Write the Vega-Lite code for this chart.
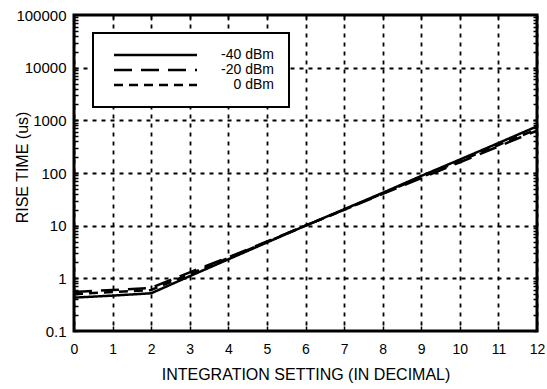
{
  "$schema": "https://vega.github.io/schema/vega-lite/v6.json",
  "width": 463,
  "height": 316,
  "autosize": {"type": "none"},
  "padding": {"left": 74, "top": 15, "right": 10, "bottom": 58},
  "background": "white",
  "config": {
    "view": {"stroke": "black", "strokeWidth": 3},
    "font": "Liberation Sans",
    "legend": {"strokeWidth": 2},
    "axis": {"domain": false, "labelFont": "Liberation Sans", "titleFont": "Liberation Sans", "labelColor": "black", "titleColor": "black", "titleFontWeight": "normal", "tickColor": "black", "gridColor": "black"}
  },
  "data": {
    "values": [
      {"x": 0, "y": 0.43, "series": "-40 dBm"},
      {"x": 1, "y": 0.47, "series": "-40 dBm"},
      {"x": 2, "y": 0.52, "series": "-40 dBm"},
      {"x": 3, "y": 1.1, "series": "-40 dBm"},
      {"x": 4, "y": 2.3, "series": "-40 dBm"},
      {"x": 5, "y": 4.8, "series": "-40 dBm"},
      {"x": 6, "y": 10, "series": "-40 dBm"},
      {"x": 7, "y": 20.5, "series": "-40 dBm"},
      {"x": 8, "y": 42, "series": "-40 dBm"},
      {"x": 9, "y": 88, "series": "-40 dBm"},
      {"x": 10, "y": 180, "series": "-40 dBm"},
      {"x": 11, "y": 370, "series": "-40 dBm"},
      {"x": 12, "y": 770, "series": "-40 dBm"},
      {"x": 0, "y": 0.55, "series": "-20 dBm"},
      {"x": 1, "y": 0.6, "series": "-20 dBm"},
      {"x": 2, "y": 0.66, "series": "-20 dBm"},
      {"x": 3, "y": 1.3, "series": "-20 dBm"},
      {"x": 4, "y": 2.5, "series": "-20 dBm"},
      {"x": 5, "y": 5.0, "series": "-20 dBm"},
      {"x": 6, "y": 10, "series": "-20 dBm"},
      {"x": 7, "y": 20, "series": "-20 dBm"},
      {"x": 8, "y": 40, "series": "-20 dBm"},
      {"x": 9, "y": 80, "series": "-20 dBm"},
      {"x": 10, "y": 160, "series": "-20 dBm"},
      {"x": 11, "y": 320, "series": "-20 dBm"},
      {"x": 12, "y": 640, "series": "-20 dBm"},
      {"x": 0, "y": 0.5, "series": "0 dBm"},
      {"x": 1, "y": 0.55, "series": "0 dBm"},
      {"x": 2, "y": 0.6, "series": "0 dBm"},
      {"x": 3, "y": 1.2, "series": "0 dBm"},
      {"x": 4, "y": 2.45, "series": "0 dBm"},
      {"x": 5, "y": 4.9, "series": "0 dBm"},
      {"x": 6, "y": 10, "series": "0 dBm"},
      {"x": 7, "y": 20, "series": "0 dBm"},
      {"x": 8, "y": 41, "series": "0 dBm"},
      {"x": 9, "y": 83, "series": "0 dBm"},
      {"x": 10, "y": 170, "series": "0 dBm"},
      {"x": 11, "y": 340, "series": "0 dBm"},
      {"x": 12, "y": 680, "series": "0 dBm"}
    ]
  },
  "layer": [
    {
      "mark": {"type": "line", "color": "black", "strokeWidth": 2.5, "clip": true},
      "encoding": {
        "x": {
          "field": "x", "type": "quantitative",
          "scale": {"domain": [0, 12], "nice": false, "zero": false},
          "axis": {
            "orient": "bottom",
            "title": "INTEGRATION SETTING (IN DECIMAL)",
            "titleFontSize": 16, "titlePadding": 10,
            "values": [0,1,2,3,4,5,6,7,8,9,10,11,12],
            "labelFontSize": 14, "labelPadding": 16, "labelFlush": false,
            "tickSize": -5, "tickWidth": 1.5,
            "grid": true, "gridDash": [4, 5], "gridWidth": 1.8
          }
        },
        "y": {
          "field": "y", "type": "quantitative",
          "scale": {"type": "log", "domain": [0.1, 100000], "nice": false},
          "axis": {
            "orient": "left",
            "title": "RISE TIME (us)",
            "titleFontSize": 16, "titleX": -52, "titleY": 152, "titleAlign": "center", "titleBaseline": "middle", "titleAngle": -90,
            "values": [0.1,0.2,0.3,0.4,0.5,0.6,0.7,0.8,0.9,1,2,3,4,5,6,7,8,9,10,20,30,40,50,60,70,80,90,100,200,300,400,500,600,700,800,900,1000,2000,3000,4000,5000,6000,7000,8000,9000,10000,20000,30000,40000,50000,60000,70000,80000,90000,100000],
            "format": "~r",
            "labelExpr": "(datum.value == 0.1 || datum.value == 1 || datum.value == 10 || datum.value == 100 || datum.value == 1000 || datum.value == 10000 || datum.value == 100000) ? datum.label : ''",
            "labelFontSize": 15, "labelPadding": 12, "labelFlush": false,
            "tickSize": -4,
            "tickWidth": 1.5,
            "grid": true, "gridDash": [4, 5], "gridWidth": 1.8,
            "gridOpacity": {"condition": {"test": "datum.value == 1 || datum.value == 10 || datum.value == 100 || datum.value == 1000 || datum.value == 10000", "value": 1}, "value": 0}
          }
        },
        "strokeDash": {
          "field": "series", "type": "nominal",
          "scale": {"domain": ["-40 dBm", "-20 dBm", "0 dBm"], "range": [[1, 0], [18, 9], [9, 6]]},
          "legend": {
            "title": null,
            "orient": "none", "legendX": 19, "legendY": 18,
            "strokeColor": "black", "fillColor": "white",
            "padding": 15,
            "symbolType": "M-0.2,0H16.4", "symbolSize": 100, "symbolStrokeWidth": 2.5, "symbolStrokeColor": "black", "symbolFillColor": "transparent",
            "labelFontSize": 14, "labelColor": "black", "labelFont": "Liberation Sans",
            "labelAlign": "right", "labelOffset": 152, "rowPadding": 1
          }
        }
      }
    },
    {
      "mark": {"type": "line", "strokeOpacity": 0},
      "encoding": {
        "x": {
          "field": "x", "type": "quantitative",
          "axis": {"orient": "top", "title": null, "labels": false, "values": [0,1,2,3,4,5,6,7,8,9,10,11,12], "tickSize": -5, "tickWidth": 1.5, "grid": false}
        },
        "y": {
          "field": "y", "type": "quantitative",
          "axis": {
            "orient": "right", "title": null, "labels": false, "grid": false,
            "values": [0.1,0.2,0.3,0.4,0.5,0.6,0.7,0.8,0.9,1,2,3,4,5,6,7,8,9,10,20,30,40,50,60,70,80,90,100,200,300,400,500,600,700,800,900,1000,2000,3000,4000,5000,6000,7000,8000,9000,10000,20000,30000,40000,50000,60000,70000,80000,90000,100000],
            "tickSize": -4,
            "tickWidth": 1.5
          }
        },
        "detail": {"field": "series"}
      }
    }
  ],
  "resolve": {"axis": {"x": "independent", "y": "independent"}}
}
